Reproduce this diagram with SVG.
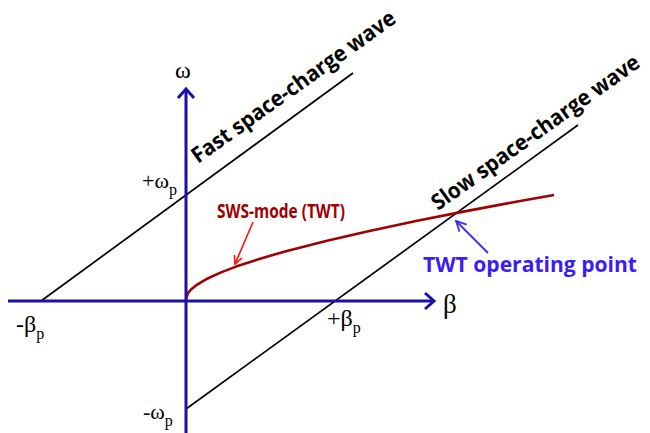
<svg xmlns="http://www.w3.org/2000/svg" width="650" height="433" viewBox="0 0 650 433">
<style>
.axis{stroke:#1c10a8;stroke-width:3;fill:none}
.wave{stroke:#000;stroke-width:1.7;fill:none}
.sym{font-family:"Liberation Serif",serif;fill:#000}
.lbl{font-family:"Open Sans","Noto Sans",sans-serif;font-weight:bold}
</style>
<defs>
<marker id="ra" markerWidth="10" markerHeight="10" refX="9" refY="5" orient="auto" markerUnits="userSpaceOnUse">
<path d="M1,1 L9,5 L1,9" fill="none" stroke="#ff1010" stroke-width="1.6"/>
</marker>
<marker id="ba" markerWidth="12" markerHeight="12" refX="11" refY="6" orient="auto" markerUnits="userSpaceOnUse">
<path d="M1,1 L11,6 L1,11" fill="none" stroke="#3a2cf0" stroke-width="1.8"/>
</marker>
</defs>
<rect width="650" height="433" fill="#fff"/>
<g id="connectors">
<line class="wave" x1="41" y1="301" x2="353" y2="73"/>
<line class="wave" x1="186" y1="409" x2="578" y2="125"/>
<polyline points="186,299 188,293.1 191,289.5 196,285.4 206,279.3 221,272.4 236,266.6 261,258.4 286,251.2 326,240.9 366,231.7 416,221 466,211.1 516,201.8 554,195" fill="none" stroke="#a00000" stroke-width="2.6" stroke-linejoin="round"/>
<line x1="253" y1="222" x2="235" y2="264" stroke="#ff1010" stroke-width="1.6" marker-end="url(#ra)"/>
<line x1="488" y1="253" x2="456" y2="221" stroke="#3a2cf0" stroke-width="1.8" marker-end="url(#ba)"/>
</g>
<g id="omega-axis">
<line class="axis" x1="186" y1="433" x2="186" y2="90"/>
<path class="axis" d="M178,98 L186,89 L194,98"/>
<text class="sym" x="175" y="78" font-size="24">ω</text>
</g>
<g id="beta-axis">
<line class="axis" x1="8" y1="301" x2="434" y2="301"/>
<path class="axis" d="M425,293 L434,301 L425,309"/>
<text class="sym" x="443" y="313" font-size="27">β</text>
</g>
<g id="plus-omega-p"><text class="sym" x="142" y="188" font-size="22">+ω<tspan font-size="16" dy="7">p</tspan></text></g>
<g id="minus-omega-p"><text class="sym" x="143" y="419" font-size="22">-ω<tspan font-size="16" dy="7">p</tspan></text></g>
<g id="minus-beta-p"><text class="sym" x="16" y="332" font-size="24">-β<tspan font-size="16" dy="7">p</tspan></text></g>
<g id="plus-beta-p"><text class="sym" x="327" y="326" font-size="24">+β<tspan font-size="16" dy="7">p</tspan></text></g>
<g id="fast-wave"><text class="lbl" transform="translate(198,164) rotate(-35.5)" font-size="22" textLength="245" lengthAdjust="spacingAndGlyphs" fill="#000">Fast space-charge wave</text></g>
<g id="slow-wave"><text class="lbl" transform="translate(438,211) rotate(-35.5)" font-size="22" textLength="250" lengthAdjust="spacingAndGlyphs" fill="#000">Slow space-charge wave</text></g>
<g id="sws-mode"><text class="lbl" x="217" y="218" font-size="20" textLength="128" lengthAdjust="spacingAndGlyphs" fill="#a00000">SWS-mode (TWT)</text></g>
<g id="twt-point"><text class="lbl" x="423" y="272" font-size="21" textLength="214" lengthAdjust="spacingAndGlyphs" fill="#3a1cf5">TWT operating point</text></g>
</svg>
